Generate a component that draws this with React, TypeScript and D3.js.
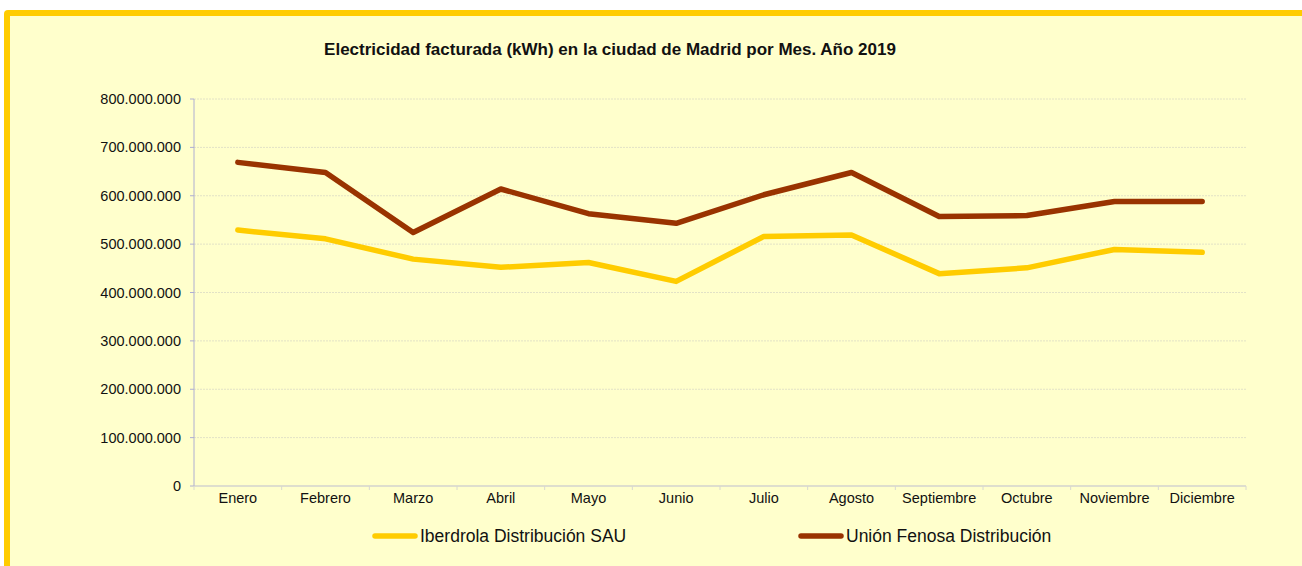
import React from "react";
import * as d3 from "d3";

const months = [
  "Enero", "Febrero", "Marzo", "Abril", "Mayo", "Junio",
  "Julio", "Agosto", "Septiembre", "Octubre", "Noviembre", "Diciembre",
];

// kWh
const iberdrola = [
  529e6, 511e6, 469e6, 452e6, 462e6, 423e6,
  516e6, 519e6, 439e6, 451e6, 489e6, 483e6,
];
const unionFenosa = [
  669e6, 648e6, 524e6, 614e6, 563e6, 543e6,
  602e6, 648e6, 557e6, 559e6, 588e6, 588e6,
];

const yTicks = [0, 100e6, 200e6, 300e6, 400e6, 500e6, 600e6, 700e6, 800e6];

const seriesList = [
  { name: "Iberdrola Distribución SAU", values: iberdrola, color: "#FFCC00" },
  { name: "Unión Fenosa Distribución", values: unionFenosa, color: "#993300" },
];

const W = 1302, H = 566;
const left = 194, right = 1246, top = 99, bottom = 486;
const font = "'Liberation Sans', Arial, sans-serif";

const App = () => {
  const x = d3.scaleBand().domain(months).range([left, right]);
  const y = d3.scaleLinear().domain([0, 800e6]).range([bottom, top]);
  const fmt = (v) => d3.format(",")(v).replace(/,/g, ".");

  const line = d3
    .line<number>()
    .x((d, i) => x(months[i]) + x.bandwidth() / 2)
    .y((d) => y(d));

  const legendX = [373, 799];

  return (
    <svg
      width={W}
      height={H}
      style={{ position: "absolute", left: 0, top: 0, display: "block" }}
      fontFamily={font}
    >
      <rect x={0} y={0} width={W} height={H} fill="#FFFFFF" />
      <rect x={4} y={10} width={W + 20} height={H + 20} rx={4} fill="#FFCC00" />
      <rect x={10} y={16} width={W} height={H} fill="#FFFFCC" />

      <text
        x={610}
        y={55}
        textAnchor="middle"
        fontSize={17}
        fontWeight="bold"
        fill="#111"
      >
        Electricidad facturada (kWh) en la ciudad de Madrid por Mes. Año 2019
      </text>

      {/* gridlines */}
      {yTicks.slice(1).map((t) => (
        <line
          key={t}
          x1={left}
          x2={right}
          y1={y(t)}
          y2={y(t)}
          stroke="#E2E2C6"
          strokeWidth={1}
          strokeDasharray="2,1"
        />
      ))}

      {/* y axis */}
      <line x1={left} x2={left} y1={top} y2={bottom} stroke="#AEAED2" />
      {yTicks.map((t) => (
        <g key={t}>
          <line x1={left - 4} x2={left} y1={y(t)} y2={y(t)} stroke="#AEAED2" />
          <text
            x={181}
            y={y(t) + 5}
            textAnchor="end"
            fontSize={14.5}
            fill="#111"
          >
            {fmt(t)}
          </text>
        </g>
      ))}

      {/* x axis */}
      <line x1={left} x2={right} y1={bottom} y2={bottom} stroke="#BDBDCF" />
      {months.map((m) => (
        <line
          key={"t" + m}
          x1={x(m)}
          x2={x(m)}
          y1={bottom}
          y2={bottom + 4}
          stroke="#D8D8D0"
        />
      ))}
      <line x1={right} x2={right} y1={bottom} y2={bottom + 4} stroke="#D8D8D0" />
      {months.map((m) => (
        <text
          key={m}
          x={x(m) + x.bandwidth() / 2}
          y={503}
          textAnchor="middle"
          fontSize={14.5}
          fill="#111"
        >
          {m}
        </text>
      ))}

      {/* series */}
      {seriesList.map((s) => (
        <path
          key={s.name}
          d={line(s.values)}
          fill="none"
          stroke={s.color}
          strokeWidth={5.5}
          strokeLinejoin="round"
          strokeLinecap="round"
        />
      ))}

      {/* legend */}
      {seriesList.map((s, i) => (
        <g key={"lg" + s.name}>
          <line
            x1={legendX[i] + 2}
            x2={legendX[i] + 42}
            y1={536}
            y2={536}
            stroke={s.color}
            strokeWidth={5.5}
            strokeLinecap="round"
          />
          <text x={legendX[i] + 47} y={542} fontSize={17.5} fill="#111">
            {s.name}
          </text>
        </g>
      ))}
    </svg>
  );
};

export default App;
